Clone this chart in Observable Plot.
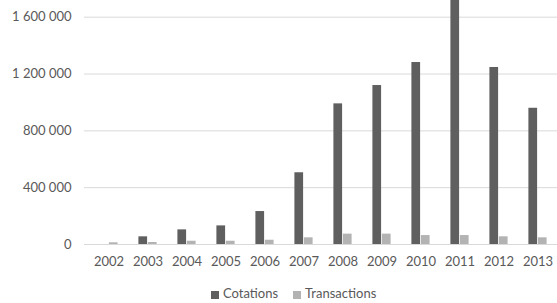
<!DOCTYPE html>
<html>
<head>
<meta charset="utf-8">
<script src="https://cdn.jsdelivr.net/npm/d3@7"></script>
<script src="https://cdn.jsdelivr.net/npm/@observablehq/plot@0.6"></script>
<style>
  body { margin: 0; background: #fff; overflow: hidden; width: 557px; height: 303px; }
  #legend { height: 23px; line-height: 26px; font-family: Lato, sans-serif; font-size: 13px; color: #595959; padding-left: 211px; white-space: nowrap; }
  #legend span.sw { display: inline-block; width: 8px; height: 8px; margin-right: 4px; vertical-align: -1px; }
  #legend span.item { display: inline-block; margin-right: 15px; }
</style>
</head>
<body>
<div id="chart"></div>
<div id="legend"></div>
<script>
const years = ["2002","2003","2004","2005","2006","2007","2008","2009","2010","2011","2012","2013"];
const cotations = [0, 54000, 103000, 131000, 232000, 505000, 990000, 1119000, 1281000, 1760000, 1246000, 959000];
const transactions = [12000, 14000, 23000, 23000, 30000, 47000, 73000, 73000, 63000, 63000, 54000, 47000];
const seriesNames = ["Cotations", "Transactions"];
const seriesColors = ["#5f5f5f", "#b3b3b3"];
const yTicks = [0, 400000, 800000, 1200000, 1600000];

const data = [];
years.forEach((y, i) => {
  data.push({year: y, series: seriesNames[0], value: cotations[i]});
  data.push({year: y, series: seriesNames[1], value: transactions[i]});
});
const fmt = d => d3.format(",")(d).replace(/,/g, " ");

const plot = Plot.plot({
  width: 557,
  height: 280,
  marginLeft: 84,
  marginRight: 0,
  marginTop: 0,
  marginBottom: 36,
  style: {fontFamily: "Lato, sans-serif", fontSize: "13px", color: "#595959", background: "white"},
  x: {domain: years, range: [84, 561], padding: 0},
  y: {domain: [0, 1600000], range: [244, 16.7]},
  color: {domain: seriesNames, range: seriesColors},
  marks: [
    Plot.ruleY(yTicks, {stroke: "#d9d9d9", strokeWidth: 1}),
    Plot.barY(data.filter(d => d.series === seriesNames[0]), {x: "year", y: "value", fill: "series", insetLeft: 10.4, insetRight: 19.9}),
    Plot.barY(data.filter(d => d.series === seriesNames[1]), {x: "year", y: "value", fill: "series", insetLeft: 19.9, insetRight: 10.4}),
    Plot.axisY(yTicks, {tickFormat: fmt, tickSize: 0, tickPadding: 13, label: null, fill: "#595959"}),
    Plot.axisX({tickSize: 0, tickPadding: 12, label: null, fill: "#595959"})
  ]
});
document.getElementById("chart").appendChild(plot);

const lg = document.getElementById("legend");
seriesNames.forEach((n, i) => {
  const it = document.createElement("span");
  it.className = "item";
  const sw = document.createElement("span");
  sw.className = "sw";
  sw.style.background = seriesColors[i];
  it.appendChild(sw);
  it.appendChild(document.createTextNode(n));
  lg.appendChild(it);
});
</script>
</body>
</html>
